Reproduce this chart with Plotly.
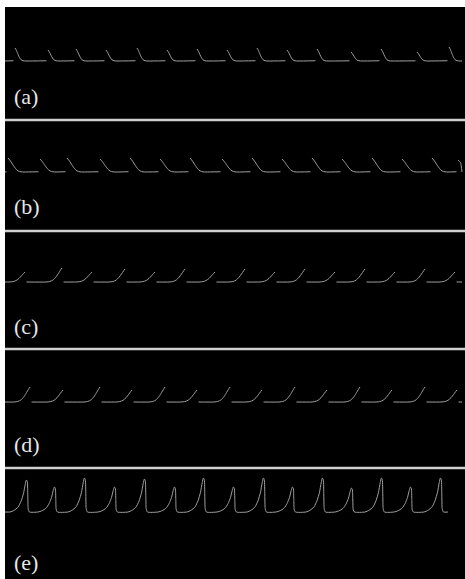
import plotly.graph_objects as go

W, H = 465, 579
L, T = 5, 7

# ---- data ----
labels = ["(a)", "(b)", "(c)", "(d)", "(e)"]

# beat positions (time units) and amplitudes per panel
beats_a = [15, 48, 76, 106, 137, 167, 197, 227, 257, 287, 317, 351, 381, 417, 449]
amps_a = [13, 11, 12, 11, 13, 11, 12, 11, 13, 11, 12, 9, 12, 9, 14]
beats_b = [8, 40, 67, 100, 130, 160, 190, 222, 252, 282, 312, 342, 372, 402, 432, 458]
amps_b = [14, 13, 14, 13, 14, 13, 14, 13, 14, 13, 14, 13, 14, 13, 14, 12]
beats_c = [25, 62, 92, 125, 155, 185, 215, 245, 275, 305, 335, 365, 395, 425, 455]
amps_c = [10, 14, 10, 13, 10, 13, 10, 13, 10, 13, 10, 13, 10, 13, 10]
beats_d = [30, 63, 100, 132, 165, 197, 230, 262, 295, 327, 360, 392, 425, 457]
amps_d = [15, 12, 15, 12, 15, 12, 15, 12, 15, 12, 15, 12, 15, 12]
beats_e = [27, 55, 85, 115, 145, 175, 204, 234, 264, 293, 323, 352, 382, 411, 441]
amps_e = [32, 25, 34, 25, 33, 25, 34, 25, 34, 25, 34, 24, 34, 25, 34]

# waveform templates: (offset, fraction of amplitude); None marks a break in the trace
tmpl_fall_a = [(-1.5, 0.02), None, (0, 1.0), (1.5, 0.8), (3, 0.52), (4.5, 0.27), (6, 0.1), (8, 0.02), (11, 0.0)]
tmpl_fall_b = [(-1.5, 0.02), None, (0, 1.0), (2.5, 0.78), (5, 0.5), (7.5, 0.25), (10, 0.08), (13, 0.01), (16, 0.0)]
tmpl_rise = [(-16, 0.0), (-12, 0.04), (-9, 0.14), (-6, 0.36), (-3.5, 0.62), (-1.5, 0.85), (0, 1.0),
             None, (1.5, 0.0)]
tmpl_peak = [(-17, 0.0), (-13, 0.05), (-9, 0.15), (-6, 0.33), (-3.5, 0.58), (-1.8, 0.86), (-0.6, 1.0),
             (0.3, 0.95), (0.8, 0.5), (1.2, 0.1), (2.4, 0.0)]

# panel layout (pixel rows) and baselines
panel_top = [7, 120, 231, 349, 468]
panel_bot = [120, 231, 349, 468, 579]
baseline = [61, 172, 282, 402, 512]
separators = [120, 231, 349, 468]
trace_end = [462, 462, 462, 462, 448]

series = [
    (beats_a, amps_a, tmpl_fall_a),
    (beats_b, amps_b, tmpl_fall_b),
    (beats_c, amps_c, tmpl_rise),
    (beats_d, amps_d, tmpl_rise),
    (beats_e, amps_e, tmpl_peak),
]


def build(beats, amps, tmpl, x0=5, x1=465):
    xs, ys = [x0], [0.0]
    for b, a in zip(beats, amps):
        for p in tmpl:
            if p is None:
                xs.append(None)
                ys.append(None)
                continue
            dx, f = p
            x = b + dx
            if x0 <= x <= x1:
                xs.append(x)
                ys.append(a * f)
    if xs[-1] is not None and xs[-1] < x1:
        xs.append(x1)
        ys.append(0.0)
    return xs, ys


def py(Y):
    return (H - Y) / (H - T)


fig = go.Figure()
layout = dict(width=W, height=H, margin=dict(l=L, r=0, t=T, b=0, pad=0),
              paper_bgcolor="white", plot_bgcolor="black", showlegend=False)

for i, (beats, amps, tmpl) in enumerate(series):
    n = "" if i == 0 else str(i + 1)
    xs, ys = build(beats, amps, tmpl, x1=trace_end[i])
    fig.add_trace(go.Scatter(x=xs, y=ys, mode="lines", xaxis="x" + n, yaxis="y" + n,
                             connectgaps=False,
                             line=dict(color="#a0a0a0", width=1.0, shape="spline", smoothing=0.6),
                             hoverinfo="skip"))
    layout["xaxis" + n] = dict(domain=[0, 1], range=[5, 465], visible=False, fixedrange=True,
                               anchor="y" + n)
    layout["yaxis" + n] = dict(domain=[py(panel_bot[i]), py(panel_top[i])],
                               range=[-(panel_bot[i] - baseline[i]), baseline[i] - panel_top[i]],
                               visible=False, fixedrange=True, anchor="x" + n)

fig.update_layout(**layout)

fig.add_shape(type="rect", xref="paper", yref="paper", x0=0, x1=1, y0=0, y1=1,
              fillcolor="black", line=dict(width=0), layer="below")
for s in separators:
    fig.add_shape(type="line", xref="paper", yref="paper", x0=0, x1=1, y0=py(s), y1=py(s),
                  line=dict(color="#d0d0d0", width=2.5))

label_y = [96, 206, 326, 444, 562]
for lab, ly in zip(labels, label_y):
    fig.add_annotation(text=lab, xref="paper", yref="paper", x=(12 - L) / (W - L), y=py(ly),
                       xanchor="left", yanchor="middle", showarrow=False,
                       font=dict(family="'Liberation Serif', 'Times New Roman', serif", size=22,
                                 color="#e6e6e6"))

fig.write_html("out.html", config={"displayModeBar": False},
               post_script="document.body.style.margin='0';document.body.style.overflow='hidden';")
